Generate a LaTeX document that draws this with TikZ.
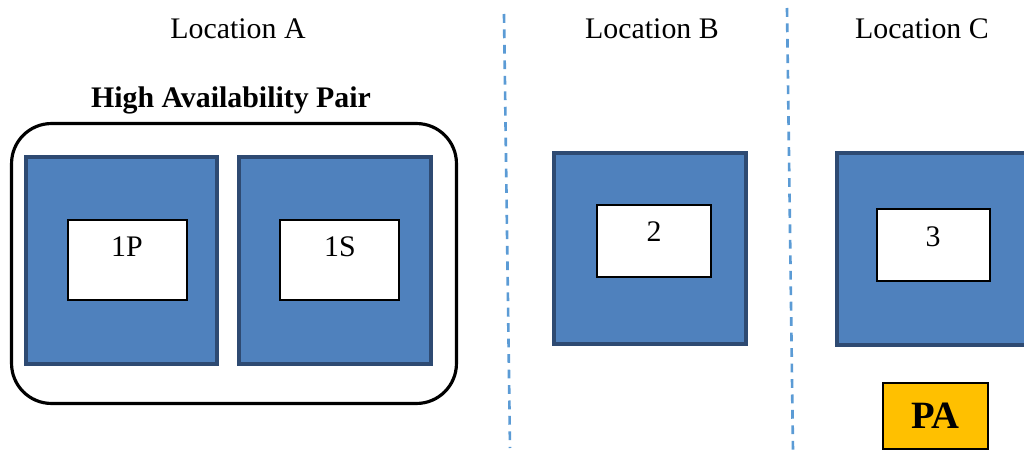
\documentclass[tikz,border=0pt]{standalone}
\usepackage{fontspec}
\setmainfont{Liberation Serif}
\usepackage{tikz}
\usetikzlibrary{calc}

\definecolor{siteblue}{HTML}{4F81BD}
\definecolor{siteedge}{HTML}{2E4A72}
\definecolor{splitblue}{HTML}{5B9BD5}
\definecolor{pagold}{HTML}{FFC000}

\begin{document}
\begin{tikzpicture}[x=0.02cm,y=-0.02cm,
  site/.style={draw=siteedge,fill=siteblue,line width=2.4pt,minimum width=3.83cm,minimum height=4.14cm},
  inst/.style={draw=black,fill=white,line width=0.6pt,minimum width=2.38cm,minimum height=1.6cm},
  txt/.style={font=\fontsize{17}{20}\selectfont},
  split/.style={draw=splitblue,line width=1.5pt,dash pattern=on 5pt off 3.8pt}]
\useasboundingbox (0,0) rectangle (1024,456);

% locations
\node[txt] (locA) at (238,29) {Location A};
\node[txt] (locB) at (652,29) {Location B};
\node[txt] (locC) at (922,29) {Location C};
\draw[split] (504,14) -- (510,448);
\draw[split] (787,8) -- (793,452);

% location A: high availability pair
\node[txt,font=\fontsize{17}{20}\selectfont\bfseries] (hatitle) at (231,100) {High Availability Pair};
\node[draw=black,line width=1.8pt,rounded corners=0.8cm,minimum width=8.9cm,minimum height=5.6cm] (hapair) at (234,263.5) {};
\node[site] (siteP) at (121.5,260.5) {};
\node[site] (siteS) at (335,260.5) {};
\node[inst] (instP) at (127.5,260) {};
\node[inst] (instS) at (339.5,260) {};
\node[txt] (lblP) at (127,247) {1P};
\node[txt] (lblS) at (340,247) {1S};

% location B
\node[site,minimum height=3.83cm] (siteB) at (650,248.5) {};
\node[inst,minimum width=2.28cm,minimum height=1.44cm] (instB) at (654,241) {};
\node[txt] (lblB) at (654,232) {2};

% location C
\node[site,minimum height=3.83cm] (siteC) at (933,249) {};
\node[inst,minimum width=2.26cm,minimum height=1.44cm] (instC) at (933.5,245) {};
\node[txt] (lblC) at (933,237) {3};
\node[draw=black,fill=pagold,line width=1.1pt,minimum width=2.1cm,minimum height=1.32cm,
  font=\fontsize{22}{26}\selectfont\bfseries] (pa) at (935.5,416) {PA};
\end{tikzpicture}
\end{document}
